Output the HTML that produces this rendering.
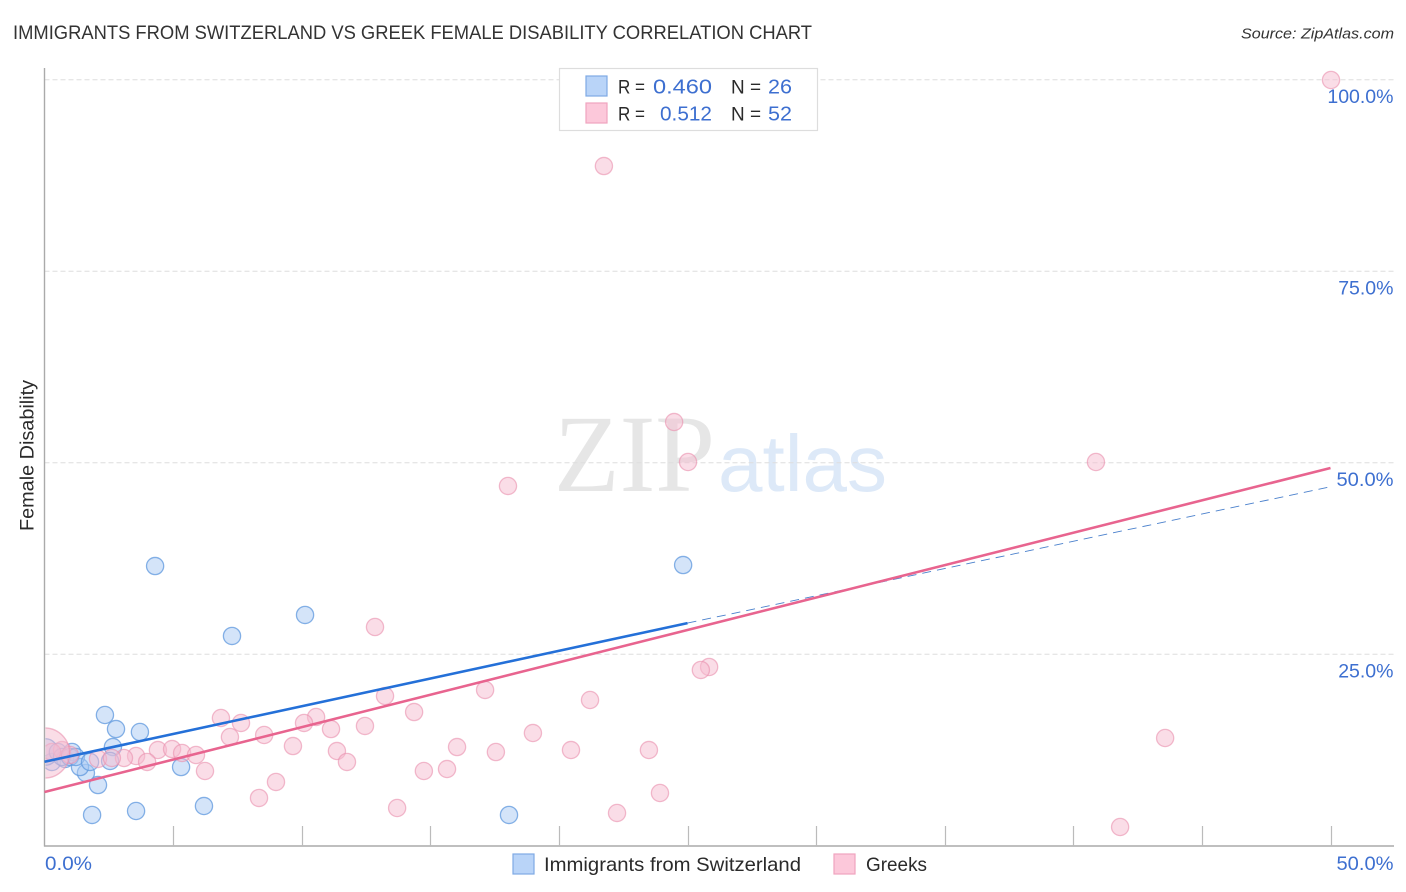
<!DOCTYPE html>
<html lang="en">
<head>
<meta charset="utf-8">
<title>Immigrants from Switzerland vs Greek Female Disability Correlation Chart</title>
<style>
html,body{margin:0;padding:0;background:#fff;width:1406px;height:892px;overflow:hidden}
svg{display:block}
text{font-family:"Liberation Sans",sans-serif}
.tick-label{font-size:19.5px;fill:#3d6fd0}
.legend-value{font-size:20.5px;fill:#3d6fd0}
.dark{fill:#2a2a2a}
</style>
</head>
<body>
<svg id="chart" xmlns="http://www.w3.org/2000/svg" width="1406" height="892" viewBox="0 0 1406 892">
  <text x="13" y="39" font-size="19.5" fill="#333" textLength="799" lengthAdjust="spacingAndGlyphs">IMMIGRANTS FROM SWITZERLAND VS GREEK FEMALE DISABILITY CORRELATION CHART</text>
  <text x="1241" y="38.500" font-size="15" font-style="italic" fill="#333" textLength="153" lengthAdjust="spacingAndGlyphs">Source: ZipAtlas.com</text>

  <g>
    <text x="554" y="491" style="font-family:'Liberation Serif',serif" font-size="110" fill="#e6e6e6" textLength="161" lengthAdjust="spacingAndGlyphs">ZIP</text>
    <text x="718" y="491" font-size="80" fill="#dde9f8" textLength="169" lengthAdjust="spacingAndGlyphs">atlas</text>
  </g>

  <g id="grid"></g>
  <g id="blue-points"></g>
  <g id="pink-points"></g>
  <g id="axes"></g>
  <g id="trends"></g>
  <g id="tick-labels"></g>

  <text transform="translate(33.500 531) rotate(-90)" font-size="19" fill="#2a2a2a" textLength="151" lengthAdjust="spacingAndGlyphs">Female Disability</text>

  <g>
    <rect x="559.500" y="68.500" width="258" height="62" fill="#fff" stroke="#ddd" stroke-width="1.200"/>
    <rect x="586" y="76" width="21" height="20" fill="#b9d4f8" stroke="#7faae4" stroke-width="1.200"/>
    <rect x="586" y="103" width="21" height="20" fill="#fcc8da" stroke="#f0a4bf" stroke-width="1.200"/>
    <text class="dark" x="618" y="93.500" font-size="19.500" textLength="27" lengthAdjust="spacingAndGlyphs">R =</text>
    <text class="legend-value" x="653" y="93.500" textLength="59" lengthAdjust="spacingAndGlyphs">0.460</text>
    <text class="dark" x="731" y="93.500" font-size="19.500" textLength="30" lengthAdjust="spacingAndGlyphs">N =</text>
    <text class="legend-value" x="768" y="93.500" textLength="24" lengthAdjust="spacingAndGlyphs">26</text>
    <text class="dark" x="618" y="120.500" font-size="19.500" textLength="27" lengthAdjust="spacingAndGlyphs">R =</text>
    <text class="legend-value" x="660" y="120.500" textLength="52" lengthAdjust="spacingAndGlyphs">0.512</text>
    <text class="dark" x="731" y="120.500" font-size="19.500" textLength="30" lengthAdjust="spacingAndGlyphs">N =</text>
    <text class="legend-value" x="768" y="120.500" textLength="24" lengthAdjust="spacingAndGlyphs">52</text>
  </g>

  <g>
    <rect x="513" y="854" width="21" height="20" fill="#b9d4f8" stroke="#7faae4" stroke-width="1.200"/>
    <text class="dark" x="544" y="871" font-size="19.500" textLength="257" lengthAdjust="spacingAndGlyphs">Immigrants from Switzerland</text>
    <rect x="834" y="854" width="21" height="20" fill="#fcc8da" stroke="#f0a4bf" stroke-width="1.200"/>
    <text class="dark" x="866" y="871" font-size="19.500" textLength="61" lengthAdjust="spacingAndGlyphs">Greeks</text>
  </g>
</svg>
<script>
const yGridValues = [25, 50, 75, 100];
const yTickLabels = ["25.0%", "50.0%", "75.0%", "100.0%"];
const xMinorTicks = [5, 10, 15, 20, 25, 30, 35, 40, 45, 50];
const xTickValues = [0, 50];
const xTickLabels = ["0.0%", "50.0%"];

const blueX = [4.30, 24.83, 10.13, 7.29, 2.35, 2.78, 3.71, 2.66, 5.31, 2.55, 1.61, 2.08, 1.85, 3.56, 6.20, 18.06, 1.38, 0.29, 0.02, 0.52, 0.80, 1.07, 0.68, 0.99, 1.22, 1.77];
const blueY = [36.55, 36.68, 30.16, 27.42, 17.10, 15.27, 14.88, 12.92, 10.31, 11.10, 9.53, 7.96, 4.05, 4.57, 5.22, 4.05, 10.31, 10.97, 12.27, 12.27, 11.36, 12.27, 11.62, 11.62, 11.62, 10.97];
const blueWeight = [1, 1, 1, 1, 1, 1, 1, 1, 1, 1, 1, 1, 1, 1, 1, 1, 1, 1, 2.4, 1, 1, 1, 1, 1, 1, 1];

const pinkX = [50.02, 21.75, 24.48, 25.02, 40.88, 18.02, 12.85, 25.84, 25.52, 17.13, 21.21, 13.24, 14.37, 6.86, 7.64, 10.56, 10.09, 11.14, 12.46, 43.57, 7.21, 8.54, 9.66, 11.37, 16.04, 18.99, 17.55, 20.47, 23.50, 4.41, 4.96, 5.35, 5.89, 3.56, 3.99, 3.09, 2.08, 2.62, 6.24, 9.00, 8.34, 11.76, 14.75, 15.65, 13.71, 22.26, 23.93, 41.82, 0.68, 0.99, 0.29, 0.00];
const pinkY = [100, 88.77, 55.35, 50.13, 50.13, 47.00, 28.59, 23.37, 22.98, 20.37, 19.06, 19.58, 17.49, 16.71, 16.06, 16.84, 16.06, 15.27, 15.67, 14.10, 14.23, 14.49, 13.05, 12.40, 12.92, 14.75, 12.27, 12.53, 12.53, 12.53, 12.66, 12.14, 11.88, 11.75, 10.97, 11.49, 11.36, 11.49, 9.79, 8.36, 6.27, 10.97, 9.79, 10.05, 4.96, 4.31, 6.92, 2.48, 12.53, 11.88, 12.27, 12.14];
const pinkWeight = [1, 1, 1, 1, 1, 1, 1, 1, 1, 1, 1, 1, 1, 1, 1, 1, 1, 1, 1, 1, 1, 1, 1, 1, 1, 1, 1, 1, 1, 1, 1, 1, 1, 1, 1, 1, 1, 1, 1, 1, 1, 1, 1, 1, 1, 1, 1, 1, 1, 1, 1, 8.5];

const blueTrendX = [0, 25, 50];
const blueTrendY = [11.0, 29.1, 46.9];
const pinkTrendX = [0, 50];
const pinkTrendY = [7.05, 49.35];

const SVGNS = "http://www.w3.org/2000/svg";
const PLOT_LEFT = 45.5;
function xScale(v) { return 44.5 + v * 25.72; }
function yScale(v) { return 846 - v * 7.66; }
function mk(tag, parentId) {
  const el = document.createElementNS(SVGNS, tag);
  document.getElementById(parentId).appendChild(el);
  return el;
}
function attrs(el, pairs) {
  for (const k in pairs) el.setAttribute(k, pairs[k]);
}
function fitLabel(el, text) {
  if (text === "50.0%") el.setAttribute("textLength", 57);
  if (text === "0.0%") el.setAttribute("textLength", 47);
  if (text === "50.0%" || text === "0.0%") el.setAttribute("lengthAdjust", "spacingAndGlyphs");
}
/* A bubble crossing the y axis is cut at the axis: the arc stays open so no stroke runs along the chord. */
function bubblePath(cx, cy, r) {
  if (cx - r >= PLOT_LEFT) {
    return "M" + (cx - r) + " " + cy + "A" + r + " " + r + " 0 1 1 " + (cx + r) + " " + cy + "A" + r + " " + r + " 0 1 1 " + (cx - r) + " " + cy + "Z";
  }
  const dx = PLOT_LEFT - cx;
  const h = Math.sqrt(r * r - dx * dx);
  const large = cx > PLOT_LEFT ? 1 : 0;
  return "M" + PLOT_LEFT + " " + (cy - h) + "A" + r + " " + r + " 0 " + large + " 1 " + PLOT_LEFT + " " + (cy + h);
}

yGridValues.forEach(function (v, i) {
  const y = yScale(v) - 0.3;
  const line = mk("line", "grid");
  
  
  attrs(line, { x1: 44.5, x2: 1394, y1: y, y2: y, stroke: "#dedede", "stroke-width": 1, "stroke-dasharray": "5 3" });
  const label = mk("text", "tick-labels");
  
  
  attrs(label, { x: 1393.5, y: y + 23.5, "text-anchor": "end", class: "tick-label" });
  label.textContent = yTickLabels[i];
  fitLabel(label, yTickLabels[i]);
});

const yAxis = mk("line", "axes");


attrs(yAxis, { x1: 44.5, x2: 44.5, y1: 68, y2: 846.5, stroke: "#aaa", "stroke-width": 1.4 });

const xAxis = mk("line", "axes");


attrs(xAxis, { x1: 44, x2: 1394, y1: 846, y2: 846, stroke: "#aaa", "stroke-width": 1.4 });

xMinorTicks.forEach(function (v) {
  const x = Math.round(xScale(v)) + 0.5;
  const tick = mk("line", "axes");
  
  
  attrs(tick, { x1: x, x2: x, y1: 826, y2: 846, stroke: "#bbb", "stroke-width": 1.2 });
});

xTickValues.forEach(function (v, i) {
  const label = mk("text", "tick-labels");
  
  
  if (i === 0) {
    attrs(label, { x: xScale(v) + 0.5, y: 870, class: "tick-label" });
  } else {
    attrs(label, { x: 1393.5, y: 870, "text-anchor": "end", class: "tick-label" });
  }
  label.textContent = xTickLabels[i];
  fitLabel(label, xTickLabels[i]);
});

blueX.forEach(function (v, i) {
  const c = mk("path", "blue-points");
  
  
  attrs(c, { d: bubblePath(xScale(v), yScale(blueY[i]), 8.6 * Math.sqrt(blueWeight[i])), fill: "#a9caf3", "fill-opacity": 0.5, stroke: "#5f98de", "stroke-width": 1.3, "stroke-opacity": 0.75 });
});

pinkX.forEach(function (v, i) {
  const c = mk("path", "pink-points");
  
  
  attrs(c, { d: bubblePath(xScale(v), yScale(pinkY[i]), 8.6 * Math.sqrt(pinkWeight[i])), fill: "#f6bccf", "fill-opacity": 0.5, stroke: "#ea8fae", "stroke-width": 1.3, "stroke-opacity": 0.6 });
});

const blueSolid = mk("line", "trends");


attrs(blueSolid, { x1: xScale(blueTrendX[0]), y1: yScale(blueTrendY[0]), x2: xScale(blueTrendX[1]), y2: yScale(blueTrendY[1]), stroke: "#2470d8", "stroke-width": 2.6 });

const blueDash = mk("line", "trends");


attrs(blueDash, { x1: xScale(blueTrendX[1]), y1: yScale(blueTrendY[1]), x2: xScale(blueTrendX[2]), y2: yScale(blueTrendY[2]), stroke: "#4a80cc", "stroke-width": 0.9, "stroke-dasharray": "9 6" });

const pinkLine = mk("line", "trends");


attrs(pinkLine, { x1: xScale(pinkTrendX[0]), y1: yScale(pinkTrendY[0]), x2: xScale(pinkTrendX[1]), y2: yScale(pinkTrendY[1]), stroke: "#e8648f", "stroke-width": 2.6 });
</script>
</body>
</html>
